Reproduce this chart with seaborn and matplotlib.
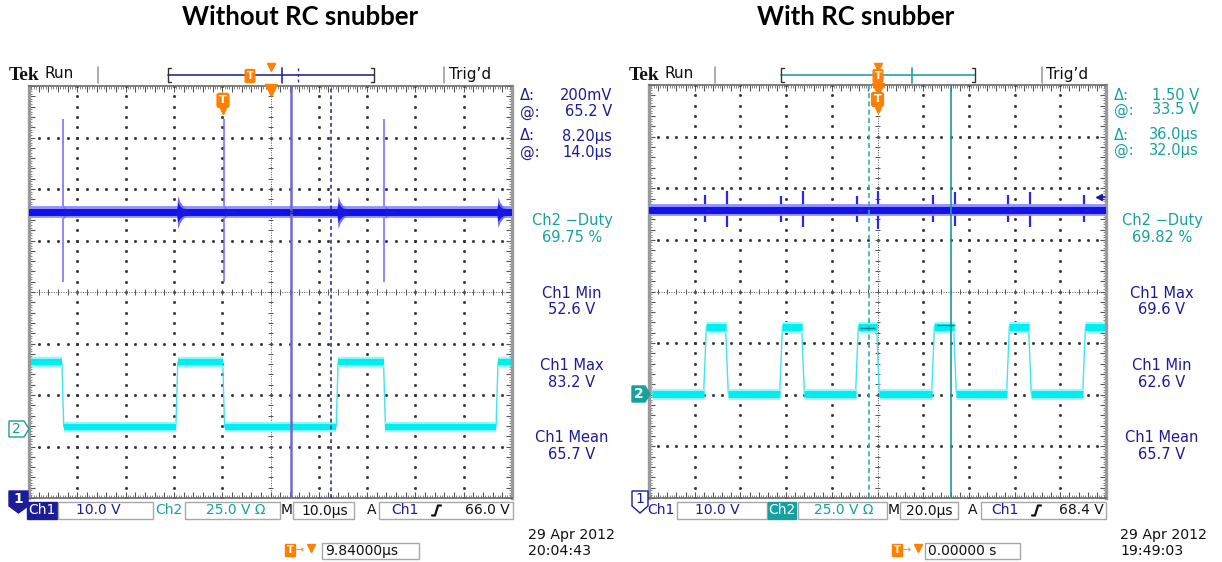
import numpy as np
import pandas as pd
import matplotlib.pyplot as plt
from matplotlib.patches import Rectangle, Polygon
import seaborn as sns

W, H = 1222, 562

# ---------------- data ----------------
# time in microseconds from screen centre, levels in graticule divisions
titles = ["Without RC snubber", "With RC snubber"]
us_per_div = [10.0, 20.0]

# left scope (10 us/div)
left_rise = [-19.4, 13.8, 46.9]
left_fall = [-43.0, -9.7, 23.6]
left_ch2_levels = [-1.36, -2.62]        # cyan high / low
left_ch1_level = 1.55                   # dark blue trace
left_spike_t = [-43.0, -9.7, 23.6]
left_spike_up = [1.80, 1.80, 1.80]
left_spike_down = [1.36, 1.36, 1.36]
left_burst_t = [-43.0, -19.4, -9.7, 13.8, 23.6, 46.9]
left_burst_amp = [0.12, 0.32, 0.12, 0.32, 0.12, 0.30]
left_cursors = [4.3, 12.5]
left_trigger = -9.84

# right scope (20 us/div)
right_rise = [-75.5, -42.2, -9.0, 24.3, 57.1, 90.4]
right_fall = [-99.4, -65.9, -32.6, 0.2, 33.9, 66.7]
right_ch2_levels = [-0.68, -1.98]
right_ch1_level = 1.57
right_spike_t = [-75.5, -65.9, -42.2, -32.6, -9.0, 0.2, 24.3, 33.9, 57.1, 66.7, 90.4]
right_spike_up = [0.30, 0.37, 0.28, 0.37, 0.28, 0.38, 0.29, 0.36, 0.30, 0.36, 0.30]
right_spike_down = [0.23, 0.33, 0.23, 0.33, 0.23, 0.35, 0.22, 0.30, 0.23, 0.33, 0.23]
right_burst_t = [-75.5, -42.2, -9.0, 24.3, 57.1, 90.4]
right_burst_amp = [0.07, 0.07, 0.07, 0.07, 0.07, 0.07]
right_cursors = [-3.8, 32.2]
right_trigger = 0.0

# burst envelope shape (offset in div, relative amplitude)
burst_ddiv = [0.0, 0.02, 0.06, 0.12, 0.20, 0.30]
burst_shape = [0.3, 1.0, 0.65, 0.4, 0.18, 0.0]

left_cursor_read = [("Δ:", "200mV"), ("@:", "65.2 V"), ("Δ:", "8.20µs"), ("@:", "14.0µs")]
right_cursor_read = [("Δ:", "1.50 V"), ("@:", "33.5 V"), ("Δ:", "36.0µs"), ("@:", "32.0µs")]
left_meas = [("Ch2 −Duty", "69.75 %"), ("Ch1 Min", "52.6 V"),
             ("Ch1 Max", "83.2 V"), ("Ch1 Mean", "65.7 V")]
right_meas = [("Ch2 −Duty", "69.82 %"), ("Ch1 Max", "69.6 V"),
              ("Ch1 Min", "62.6 V"), ("Ch1 Mean", "65.7 V")]
left_bar = ["10.0 V", "25.0 V Ω", "10.0µs", "66.0 V"]
right_bar = ["10.0 V", "25.0 V Ω", "20.0µs", "68.4 V"]
left_delay, right_delay = "9.84000µs", "0.00000 s"
left_stamp = ["29 Apr 2012", "20:04:43"]
right_stamp = ["29 Apr 2012", "19:49:03"]

# ---------------- style ----------------
DARK = "#1c1c96"
TEAL = "#16a0a0"
ORANGE = "#ff7f00"
BLUE = "#1212e8"
CYAN = "#00eef0"
INK = "#111111"

sns.set_theme(style="white")
plt.rcParams["font.family"] = ["DejaVu Sans"]
plt.rcParams["text.color"] = INK


def square_wave(rise, fall, hi, lo, t_end, ramp):
    edges = sorted([(t, hi) for t in rise] + [(t, lo) for t in fall])
    level = lo if edges[0][1] == hi else hi
    t, v = [-t_end], [level]
    for te, new in edges:
        t += [te - ramp / 2, te + ramp / 2]
        v += [level, new]
        level = new
    t.append(t_end)
    v.append(level)
    return pd.DataFrame({"t": t, "v": v})


def graticule(ax, upd):
    span = 5 * upd
    sub = np.arange(-25, 26) * 0.2 * upd
    subv = np.arange(-20, 21) * 0.2
    for k in [-3, -2, -1, 1, 2, 3]:
        ax.plot(sub, np.full_like(sub, k), "s", ms=1.0, color="#333", zorder=1)
    for i in [-4, -3, -2, -1, 1, 2, 3, 4]:
        ax.plot(np.full_like(subv, i * upd), subv, "s", ms=1.0, color="#333", zorder=1)
    ax.axhline(0, color="#555", lw=0.7, ls=(0, (1, 1.5)), zorder=1)
    ax.axvline(0, color="#555", lw=0.7, ls=(0, (1, 1.5)), zorder=1)
    ax.vlines(sub, -0.05, 0.05, color="#555", lw=0.7, zorder=1)
    ax.hlines(subv, -0.05 * upd, 0.05 * upd, color="#555", lw=0.7, zorder=1)
    ax.set_xlim(-span, span)
    ax.set_ylim(-4, 4)
    ax.set_xticks(sub)
    ax.set_xticks(np.arange(-100, 101) * 0.05 * upd, minor=True)
    ax.set_yticks(subv)
    ax.set_yticks(np.arange(-80, 81) * 0.05, minor=True)
    ax.tick_params(which="both", direction="in", top=True, right=True, bottom=True,
                   left=True, labelbottom=False, labelleft=False, color="#555")
    ax.tick_params(which="major", length=4, width=0.8)
    ax.tick_params(which="minor", length=2, width=0.5)
    for side in ["left", "right"]:
        ax.spines[side].set_color("#9a9a9a")
        ax.spines[side].set_linewidth(2.4)
    for side in ["top", "bottom"]:
        ax.spines[side].set_color("#6a6a6a")
        ax.spines[side].set_linewidth(1.2)


def draw_scope(ax, upd, rise, fall, ch2_levels, ch1_level, sp_t, sp_up, sp_dn,
               b_t, b_amp, ramp, cyan_lw, spike_style):
    span = 5 * upd
    graticule(ax, upd)

    # channel 2 gate signal (cyan)
    wave = square_wave(rise, fall, ch2_levels[0], ch2_levels[1], span, ramp)
    sns.lineplot(data=wave, x="t", y="v", ax=ax, color="#40e4f0", lw=1.0,
                 sort=False, estimator=None, zorder=2)
    starts, ends = wave.iloc[0::2], wave.iloc[1::2]
    ax.hlines(starts["v"].values, starts["t"].values, ends["t"].values,
              color="#9af8fa", lw=cyan_lw + 3, capstyle="butt", zorder=2)
    ax.hlines(starts["v"].values, starts["t"].values, ends["t"].values,
              color=CYAN, lw=cyan_lw, capstyle="butt", zorder=2)

    # channel 1 drain signal (blue): fringe, ringing bursts, core
    ax.vlines(sp_t, [ch1_level - d for d in sp_dn], [ch1_level + u for u in sp_up],
              zorder=2.8, **spike_style)
    for t0, a in zip(b_t, b_amp):
        tt = [t0 + d * upd for d in burst_ddiv]
        ax.fill_between(tt, [ch1_level - a * s for s in burst_shape],
                        [ch1_level + a * s for s in burst_shape],
                        color="#7070ff", lw=0, zorder=2.9)
    base = pd.DataFrame({"t": [-span, span], "v": [ch1_level, ch1_level]})
    ax.hlines(ch1_level, -span, span, color="#9090ff", lw=8.5, capstyle="butt", zorder=2.85)
    sns.lineplot(data=base, x="t", y="v", ax=ax, color=BLUE, lw=5.0, zorder=3)
    for t0, a in zip(b_t, b_amp):
        tt = [t0 + d * upd for d in burst_ddiv]
        ax.fill_between(tt, [ch1_level - 0.6 * a * s for s in burst_shape],
                        [ch1_level + 0.6 * a * s for s in burst_shape],
                        color="#1818e0", lw=0, zorder=3.1)
    ax.set_xlim(-span, span)
    ax.set_ylim(-4, 4)
    ax.set_xlabel("")
    ax.set_ylabel("")


def t_tag(ax, t, y):
    ax.text(t, y, "T", color="white", weight="bold", fontsize=8, ha="center",
            va="center", zorder=6,
            bbox=dict(boxstyle="round,pad=0.18", fc=ORANGE, ec=ORANGE))
    ax.plot(t, y - 0.2, marker="v", ms=5, color=ORANGE, zorder=6)


fig = plt.figure(figsize=(W / 100, H / 100), dpi=100)
axl = fig.add_axes([29 / W, 1 - 498 / H, 483 / W, 412 / H])
axr = fig.add_axes([649 / W, 1 - 498 / H, 457 / W, 413 / H])

draw_scope(axl, us_per_div[0], left_rise, left_fall, left_ch2_levels, left_ch1_level,
           left_spike_t, left_spike_up, left_spike_down, left_burst_t, left_burst_amp,
           0.4, 4.5, dict(color="#6a6aff", lw=1.1))
draw_scope(axr, us_per_div[1], right_rise, right_fall, right_ch2_levels, right_ch1_level,
           right_spike_t, right_spike_up, right_spike_down, right_burst_t, right_burst_amp,
           1.2, 5.0, dict(color="#2a2ae6", lw=1.6))

# cursors
axl.axvline(left_cursors[0], color="#6a6ad0", lw=1.8, zorder=4)
axl.axvline(left_cursors[1], color="#22228e", lw=1.1, ls=(0, (2.5, 2)), zorder=4)
axl.hlines([left_ch1_level + 0.02, left_ch1_level - 0.02], 3.0, 6.0, color="#202060", lw=0.8, zorder=4)
axr.axvline(right_cursors[0], color="#30b0b0", lw=1.2, ls=(0, (3, 2)), zorder=4)
axr.axvline(right_cursors[1], color="#1a9898", lw=1.2, zorder=4)
axr.hlines(right_ch2_levels[0] - 0.03, -7.7, -1.1, color="#1a7f7f", lw=1.0, zorder=4)
axr.hlines(right_ch2_levels[0] + 0.03, 26.0, 33.9, color="#1a7f7f", lw=1.0, zorder=4)

# trigger markers
for ax, trig in [(axl, left_trigger), (axr, right_trigger)]:
    ax.plot(0, 3.93, marker="v", ms=8, color=ORANGE, zorder=6, clip_on=False)
    t_tag(ax, trig, 3.72)

# ---------------- overlay in pixel coordinates ----------------
ov = fig.add_axes([0, 0, 1, 1], zorder=5)
ov.set_xlim(0, W)
ov.set_ylim(H, 0)
ov.axis("off")


def txt(x, y, s, **kw):
    kw.setdefault("va", "center")
    kw.setdefault("fontsize", 10)
    kw.setdefault("color", INK)
    ov.text(x, y, s, **kw)


def box(x0, y0, x1, y1, fc="white", ec="#a8a8a8"):
    ov.add_patch(Rectangle((x0, y0), x1 - x0, y1 - y0, fc=fc, ec=ec, lw=1.0))


def edge_symbol(x, y):
    ov.plot([x - 5, x - 2, x + 1, x + 4], [y + 5, y + 5, y - 5, y - 5], color=INK, lw=1.6)


# titles
txt(300, 17, titles[0], ha="center", fontsize=18.5, weight="bold", color="black",
    family=["Lato", "DejaVu Sans"])
txt(856, 17, titles[1], ha="center", fontsize=18.5, weight="bold", color="black",
    family=["Lato", "DejaVu Sans"])

panels = [
    dict(x0=0, lb=168, rb=374, tick=282, dash=298, tsmall=250, sep=[98, 444], trig=449,
         col=DARK, cread=left_cursor_read, cx=(520, 612), meas=left_meas, mx=572,
         stamp=left_stamp, sx=528),
    dict(x0=620, lb=781, rb=975, tick=912, dash=None, tsmall=878, sep=[715, 1042], trig=1046,
         col=TEAL, cread=right_cursor_read, cx=(1114, 1199), meas=right_meas, mx=1162,
         stamp=right_stamp, sx=1120),
]

for i, p in enumerate(panels):
    o = p["x0"]
    # header
    txt(o + 9, 75, "Tek", fontsize=14, weight="bold", family=["Liberation Serif"])
    txt(o + 44, 74, "Run", fontsize=11)
    for sx in p["sep"]:
        ov.plot([sx, sx], [67, 83], color="#a0a0a0", lw=1.2)
    txt(p["trig"], 74, "Trig’d", fontsize=11)
    lc = "#2a2aa0" if i == 0 else "#1fa3a3"
    ov.plot([p["lb"], p["rb"]], [75, 75], color=lc, lw=1.2)
    for bx, d in [(p["lb"], 3), (p["rb"], -3)]:
        ov.plot([bx + d, bx, bx, bx + d], [68, 68, 82, 82], color="#333", lw=1.0)
    ov.plot([p["tick"], p["tick"]], [68, 83], color=lc, lw=1.2)
    if p["dash"]:
        ov.plot([p["dash"], p["dash"]], [68, 82], color=lc, lw=1.0, ls=(0, (2, 2)))
    txt(p["tsmall"], 76, "T", fontsize=7, weight="bold", color="white", ha="center",
        bbox=dict(boxstyle="round,pad=0.15", fc=ORANGE, ec=ORANGE))
    ov.plot(271 if i == 0 else 878, 67, marker="v", ms=6, color=ORANGE)

    # cursor readouts
    ys = [96, 112, 136, 152] if i == 0 else [95, 110, 135, 150]
    for (lab, val), y in zip(p["cread"], ys):
        txt(p["cx"][0], y, lab, color=p["col"], fontsize=10.5)
        txt(p["cx"][1], y, val, color=p["col"], fontsize=10.5, ha="right")

    # measurements
    for k, ((lab, val), y) in enumerate(zip(p["meas"], [221, 293, 366, 438])):
        c = TEAL if k == 0 else DARK
        txt(p["mx"], y, lab, color=c, fontsize=10.5, ha="center")
        txt(p["mx"], y + 16.5, val, color=c, fontsize=10.5, ha="center")

    # time stamp
    txt(p["sx"], 535, p["stamp"][0], fontsize=10.2)
    txt(p["sx"], 551, p["stamp"][1], fontsize=10.2)

# bottom bars
# left
box(27, 502, 57, 519, fc=DARK, ec=DARK)
txt(42, 510.5, "Ch1", color="white", ha="center")
box(58, 502, 153, 519)
txt(98, 510.5, left_bar[0], color=DARK, ha="center")
txt(169, 510.5, "Ch2", color=TEAL, ha="center")
box(185, 502, 280, 519)
txt(236, 510.5, left_bar[1], color=TEAL, ha="center")
txt(287, 510.5, "M", ha="center")
box(293, 502, 354, 519)
txt(325, 510.5, left_bar[2], ha="center")
txt(372, 510.5, "A", ha="center")
box(379, 502, 513, 519)
txt(405, 510.5, "Ch1", color=DARK, ha="center")
edge_symbol(437, 510.5)
txt(510, 510.5, left_bar[3], ha="right")
# right
txt(661, 510.5, "Ch1", color=DARK, ha="center")
box(677, 502, 767, 519)
txt(717, 510.5, right_bar[0], color=DARK, ha="center")
box(768, 502, 796, 519, fc=TEAL, ec=TEAL)
txt(782, 510.5, "Ch2", color="white", ha="center")
box(798, 502, 887, 519)
txt(844, 510.5, right_bar[1], color=TEAL, ha="center")
txt(894, 510.5, "M", ha="center")
box(900, 502, 958, 519)
txt(929, 510.5, right_bar[2], ha="center")
txt(973, 510.5, "A", ha="center")
box(981, 502, 1106, 519)
txt(1005, 510.5, "Ch1", color=DARK, ha="center")
edge_symbol(1037, 510.5)
txt(1104, 510.5, right_bar[3], ha="right")

# delay readouts
for tx, bx0, bx1, s in [(285, 322, 419, left_delay), (892, 925, 1020, right_delay)]:
    ov.add_patch(Rectangle((tx, 544), 10, 12, fc=ORANGE, ec=ORANGE))
    txt(tx + 5, 550, "T", color="white", fontsize=7, weight="bold", ha="center")
    txt(tx + 15, 550, "→", color=ORANGE, fontsize=7, ha="center")
    ov.plot(tx + 26, 548, marker="v", ms=6, color=ORANGE)
    box(bx0, 543, bx1, 559)
    txt(bx0 + 3, 551, s)

# channel ground markers
ov.add_patch(Polygon([(9, 491), (28, 491), (28, 506), (18.5, 513), (9, 506)], fc=DARK, ec=DARK))
txt(18.5, 499, "1", color="white", ha="center", weight="bold")
ov.add_patch(Polygon([(632, 491), (648, 491), (648, 506), (640, 513), (632, 506)], fc="white", ec=DARK))
txt(640, 499, "1", color=DARK, ha="center")
ov.add_patch(Polygon([(9, 421), (24, 421), (29, 429), (24, 437), (9, 437)], fc="white", ec=TEAL))
txt(16, 429, "2", color=TEAL, ha="center")
ov.add_patch(Polygon([(632, 386), (645, 386), (650, 394), (645, 402), (632, 402)], fc=TEAL, ec=TEAL))
txt(639, 394, "2", color="white", ha="center", weight="bold")
# ch1 position arrow on right scope
ov.plot([1099, 1105], [197, 197], color=DARK, lw=1.2)
ov.plot(1099, 197, marker="<", ms=5, color=DARK)

fig.savefig("out.png", dpi=100)
